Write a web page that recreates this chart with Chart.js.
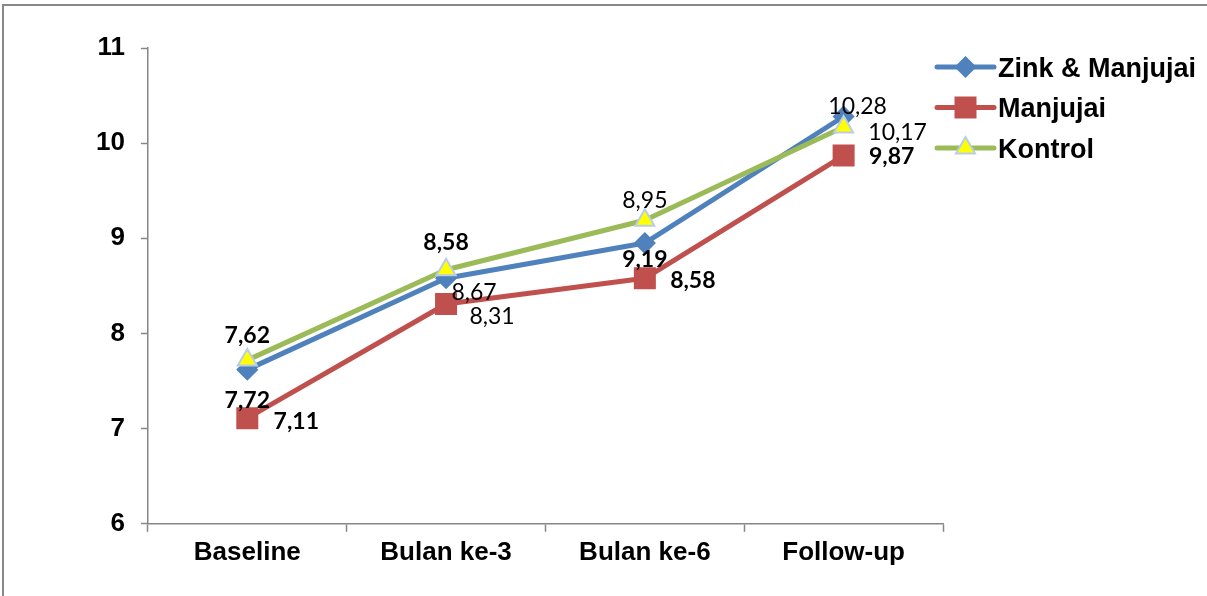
<!DOCTYPE html>
<html>
<head>
<meta charset="utf-8">
<title>Zink & Manjujai</title>
<script src="https://cdn.jsdelivr.net/npm/chart.js@4.4.1/dist/chart.umd.min.js"></script>
<style>
  html, body { margin: 0; padding: 0; background: #fff; overflow: hidden; }
  #frame {
    position: absolute; left: 2px; top: 4px; width: 1400px; height: 800px;
    border-left: 2px solid #888; border-top: 2px solid #888;
  }
  #myChart { position: absolute; left: 0; top: 0; }
</style>
</head>
<body>
<div id="frame"></div>
<canvas id="myChart" width="1207" height="596"></canvas>
<script>
// data
const categories = ['Baseline', 'Bulan ke-3', 'Bulan ke-6', 'Follow-up'];
const seriesNames = ['Zink & Manjujai', 'Manjujai', 'Kontrol'];
const zinkManjujai = [7.62, 8.58, 8.95, 10.28];
const manjujai = [7.11, 8.31, 8.58, 9.87];
const kontrol = [7.72, 8.67, 9.19, 10.17];
const yTicks = [6, 7, 8, 9, 10, 11];

// where the value labels sit next to their point (dx, dy) and which ones are bold
const labelOffsets = [
   [[0, -35], [0, -36], [0, -43], [14, -11]],
   [[49, 3], [46, 12], [48, 2], [48, 0]],
   [[0, 40], [28, 22], [0, 39], [54, 5]]
];
const labelBold = [
   [true, true, false, false],
   [true, false, true, true],
   [true, false, true, false]
];

const axisFont = { family: "'Liberation Sans', Arial, sans-serif", size: 26, weight: 'bold' };
const axisGray = '#868686';

// value labels, like the excel ones
const valueLabels = {
   id: 'valueLabels',
   afterDatasetsDraw: (chart) => {
      const ctx = chart.ctx;
      ctx.save();
      ctx.fillStyle = '#000';
      ctx.textAlign = 'center';
      ctx.textBaseline = 'alphabetic';
      chart.data.datasets.forEach((ds, di) => {
         const meta = chart.getDatasetMeta(di);
         meta.data.forEach((pt, i) => {
            const off = labelOffsets[di][i];
            ctx.font = (labelBold[di][i] ? 'bold ' : '') + "23px Lato, 'Open Sans', sans-serif";
            const text = ds.data[i].toFixed(2).replace('.', ',');
            ctx.fillText(text, pt.x + off[0], pt.y + off[1] + 8);
         });
      });
      ctx.restore();
   }
};

// legend with line + marker swatch
const lineLegend = {
   id: 'lineLegend',
   afterDraw: (chart) => {
      const ctx = chart.ctx;
      const x0 = 937, x1 = 994, textX = 998;
      const rows = [67, 107.5, 148];
      ctx.save();
      chart.data.datasets.forEach((ds, di) => {
         const y = rows[di];
         ctx.strokeStyle = ds.borderColor;
         ctx.lineWidth = ds.borderWidth;
         ctx.lineCap = 'round';
         ctx.beginPath();
         ctx.moveTo(x0, y);
         ctx.lineTo(x1, y);
         ctx.stroke();
         if (Chart.helpers && Chart.helpers.drawPoint) {
            ctx.fillStyle = ds.pointBackgroundColor;
            ctx.strokeStyle = ds.pointBorderColor;
            ctx.lineWidth = ds.pointBorderWidth;
            ctx.lineCap = 'butt';
            Chart.helpers.drawPoint(ctx, {
               pointStyle: ds.pointStyle,
               radius: ds.pointRadius,
               rotation: 0,
               borderWidth: ds.pointBorderWidth
            }, (x0 + x1) / 2, y);
         }
         ctx.fillStyle = '#000';
         ctx.font = "bold 27px 'Liberation Sans', Arial, sans-serif";
         ctx.textAlign = 'left';
         ctx.textBaseline = 'alphabetic';
         ctx.fillText(ds.label, textX, y + 9.5);
      });
      ctx.restore();
   }
};

const makeSet = (label, data, color, style, radius, fill, border) => ({
   label: label,
   data: data,
   borderColor: color,
   backgroundColor: color,
   borderWidth: 5,
   borderCapStyle: 'round',
   borderJoinStyle: 'round',
   pointStyle: style,
   pointRadius: radius,
   pointHoverRadius: radius,
   pointBackgroundColor: fill,
   pointBorderColor: border,
   pointBorderWidth: 1.5,
   tension: 0
});

const datasets = [
   makeSet(seriesNames[0], zinkManjujai, '#4F81BD', 'rectRot', 10, '#4F81BD', '#4F81BD'),
   makeSet(seriesNames[1], manjujai, '#C0504D', 'rect', 14.5, '#C0504D', '#C0504D'),
   makeSet(seriesNames[2], kontrol, '#9BBB59', 'triangle', 11, '#FFFF00', '#B9CDE5')
];
// excel draws the last series on top
datasets[0].order = 2;
datasets[1].order = 1;
datasets[2].order = 0;
datasets[2].pointBorderWidth = 2;

const ctx = document.getElementById('myChart').getContext('2d');
new Chart(ctx, {
   type: 'line',
   data: { labels: categories, datasets: datasets },
   options: {
      responsive: false,
      maintainAspectRatio: false,
      animation: false,
      events: [],
      layout: { padding: { left: 80, right: 264, top: 48, bottom: 23 } },
      plugins: {
         legend: { display: false },
         tooltip: { enabled: false },
         title: { display: false }
      },
      scales: {
         x: {
            offset: true,
            grid: {
               offset: true,
               drawOnChartArea: false,
               drawTicks: true,
               tickLength: 8,
               tickColor: axisGray,
               tickWidth: 1.5
            },
            border: { display: true, color: axisGray, width: 1.5 },
            ticks: { color: '#000', font: axisFont, padding: 5, maxRotation: 0 }
         },
         y: {
            min: yTicks[0],
            max: yTicks[yTicks.length - 1],
            afterBuildTicks: (scale) => {
               scale.ticks = yTicks.map(v => ({ value: v }));
            },
            grid: {
               drawOnChartArea: false,
               drawTicks: true,
               tickLength: 7,
               tickColor: axisGray,
               tickWidth: 1.5
            },
            border: { display: true, color: axisGray, width: 1.5 },
            ticks: { color: '#000', font: axisFont, padding: 16 }
         }
      }
   },
   plugins: [valueLabels, lineLegend]
});
</script>
</body>
</html>
